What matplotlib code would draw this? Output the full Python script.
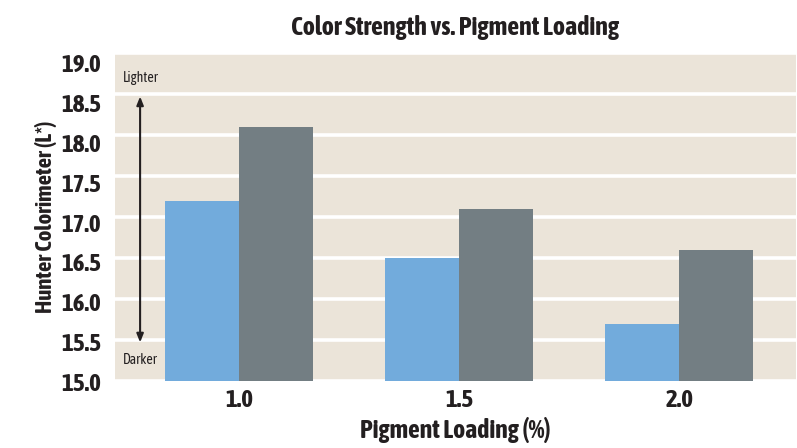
import matplotlib
matplotlib.use("Agg")
import matplotlib.pyplot as plt
import numpy as np
from matplotlib import font_manager as fm
import matplotlib.transforms as mtransforms

categories = ["1.0", "1.5", "2.0"]
series_a = [17.2, 16.5, 15.7]   # blue
series_b = [18.1, 17.1, 16.6]   # grey
yticks = [15.0, 15.5, 16.0, 16.5, 17.0, 17.5, 18.0, 18.5, 19.0]

def wnum(w):
    if isinstance(w, (int, float)):
        return w
    return fm.weight_dict.get(str(w).lower(), 400)

entries = fm.fontManager.ttflist
narrow_names = sorted({f.name for f in entries if ("Condensed" in f.name or "Narrow" in f.name)})
bold_narrow = [n for n in narrow_names if any(f.name == n and wnum(f.weight) >= 600 for f in entries)]
avail = {f.name for f in entries}
fam = (bold_narrow[:1] or narrow_names[:1]) + [f for f in ["Roboto", "DejaVu Sans"] if f in avail]
plt.rcParams["font.family"] = fam

TXT = "#231f20"
BG = "#ebe4d9"
BLUE = "#72abdc"
GREY = "#737e83"

fig = plt.figure(figsize=(7.97, 4.48), dpi=100)
ax = fig.add_axes([115/797, 1-381/448, (796-115)/797, (381-53)/448])
ax.set_facecolor(BG)

x = np.arange(len(categories))
w = 0.336
ax.bar(x - w/2, series_a, width=w, bottom=0, color=BLUE, zorder=3)
ax.bar(x + w/2, series_b, width=w, bottom=0, color=GREY, zorder=3)

ax.set_ylim(15.0, 19.0)
ax.set_xlim(-0.564, 2.53)
ax.set_yticks(yticks)
ax.set_yticklabels([f"{v:.1f}" for v in yticks], fontsize=18, fontweight="bold", color=TXT)
ax.set_xticks(x)
ax.set_xticklabels(categories, fontsize=18, fontweight="bold", color=TXT)
ax.tick_params(axis="both", length=0)
ax.tick_params(axis="y", pad=10)
ax.tick_params(axis="x", pad=6)
for v, lab in zip(yticks, ax.get_yticklabels()):
    off = 1 + 9 * (v - 15.0) / 4.0
    lab.set_transform(lab.get_transform() + mtransforms.ScaledTranslation(0, -off/100, fig.dpi_scale_trans))

for s in ax.spines.values():
    s.set_visible(False)
ax.yaxis.grid(True, color="white", linewidth=2.6, zorder=1)
ax.set_axisbelow(True)

ax.set_title("Color Strength vs. Pigment Loading", fontsize=18.7, fontweight="bold", color=TXT, pad=13)
ax.set_xlabel("Pigment Loading (%)", fontsize=18.5, fontweight="bold", color=TXT, labelpad=3)
ax.set_ylabel("Hunter Colorimeter (L*)", fontsize=16.5, fontweight="bold", color=TXT, labelpad=3)

ax.annotate("", xy=(-0.45, 18.47), xytext=(-0.45, 15.47),
            arrowprops=dict(arrowstyle="<|-|>,head_length=0.5,head_width=0.2", color=TXT, lw=1.5,
                            shrinkA=0, shrinkB=0), zorder=4)
ax.text(-0.527, 18.7, "Lighter", fontsize=10, color=TXT, ha="left", va="center")
ax.text(-0.527, 15.26, "Darker", fontsize=10, color=TXT, ha="left", va="center")

fig.savefig("out.png", dpi=100)
